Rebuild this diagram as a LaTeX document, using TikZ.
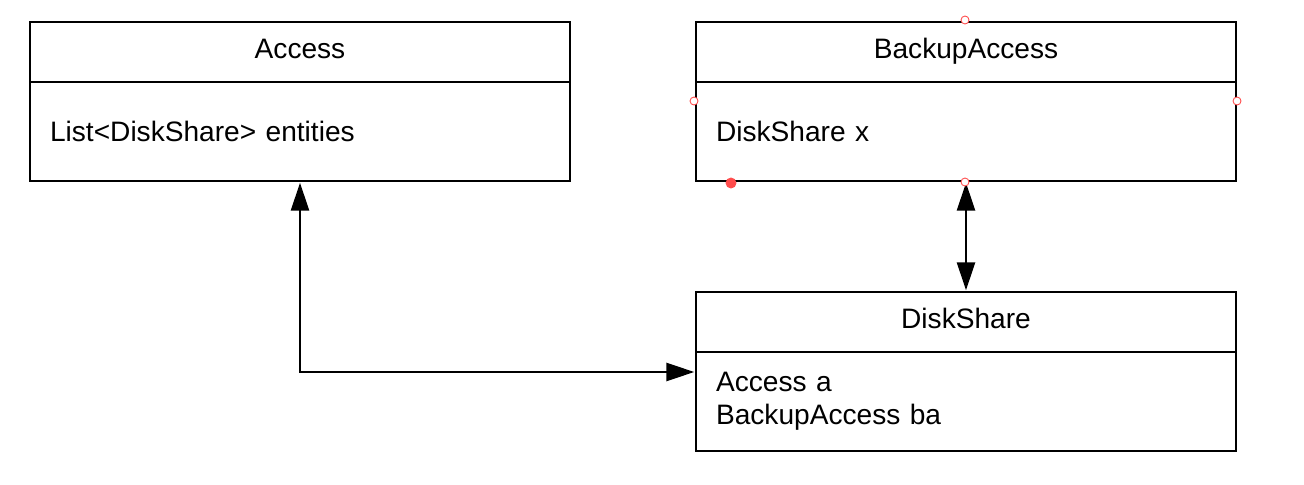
\documentclass[tikz,border=0pt]{standalone}
\usepackage{fontspec}
\setmainfont{Liberation Sans}
\usetikzlibrary{positioning,arrows.meta}

\begin{document}
\begin{tikzpicture}[x=0.02cm,y=-0.02cm,
	classhead/.style={draw,line width=1.6pt,outer sep=0pt,minimum width=10.8cm,
		minimum height=1.2cm,text height=0.5cm,text depth=0.26cm,
		font=\fontsize{16}{19}\selectfont},
	classbody/.style={draw,line width=1.6pt,outer sep=0pt,minimum width=10.8cm,
		minimum height=1.98cm,text width=10cm,inner xsep=0.4cm,align=left,
		font=\fontsize{16}{19}\selectfont},
	assoc/.style={line width=1.6pt,{Triangle[length=0.56cm,width=0.36cm]}-{Triangle[length=0.56cm,width=0.36cm]},
		shorten <=1pt,shorten >=1pt},
	handle/.style={circle,draw=red!70,fill=white,line width=0.5pt,inner sep=0pt,minimum size=0.16cm}]
	\useasboundingbox (0,0) rectangle (1304,484);

	% classes
	\node[classhead] (acc) at (300,52) {Access};
	\node[classbody,below=0pt of acc] (accbody) {List<DiskShare> entities};

	\node[classhead] (bk) at (966,52) {BackupAccess};
	\node[classbody,below=0pt of bk] (bkbody) {DiskShare x};

	\node[classhead] (ds) at (966,322) {DiskShare};
	\node[classbody,below=0pt of ds] (dsbody) {Access a\\BackupAccess ba};

	% associations
	\coordinate (dsin) at ([yshift=-0.4cm]dsbody.north west);
	\draw[assoc] (accbody.south) |- (dsin);
	\draw[assoc] (bkbody.south) -- (ds.north);

	% selection handles
	\node[handle] (hn) at (965,20) {};
	\node[handle] (hw) at (694,101) {};
	\node[handle] (he) at (1237,101) {};
	\node[handle] (hs) at (965,182) {};
	\node[handle,fill=red!70,minimum size=0.2cm] (hd) at (731,183) {};
\end{tikzpicture}
\end{document}
